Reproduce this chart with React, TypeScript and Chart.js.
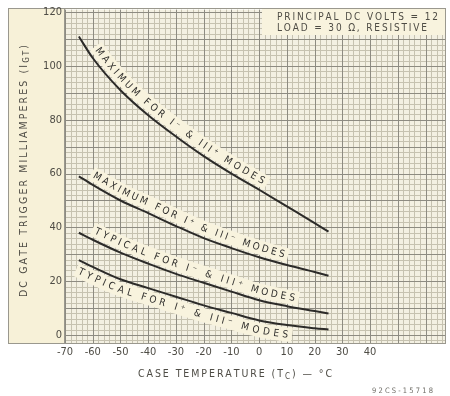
import React, { useEffect, useRef } from "react";
import { Chart, registerables } from "chart.js";

Chart.register(...registerables);

// ---- data ----
const temps = [-65, -60, -50, -40, -30, -20, -10, 0, 10, 20, 25];
const maxIminusIIIplus = [111, 103, 91, 81.7, 73.8, 66.5, 60, 54, 47.8, 41.6, 38.4];
const maxIplusIIIminus = [59, 55.8, 50, 45.3, 40.5, 36, 32.3, 28.9, 26, 23.4, 22];
const typIminusIIIplus = [38, 35.4, 30.6, 26.5, 22.7, 19.4, 16.1, 12.9, 10.7, 8.9, 8];
const typIplusIIIminus = [27.8, 25.3, 20.7, 17.4, 14.2, 11, 8.2, 5.4, 3.7, 2.5, 2];
const seriesValues = [maxIminusIIIplus, maxIplusIIIminus, typIminusIIIplus, typIplusIIIminus];
const curveLabels = [
  "MAXIMUM FOR I\u207B & III\u207A MODES",
  "MAXIMUM FOR I\u207A & III\u207B MODES",
  "TYPICAL FOR I\u207B & III\u207A MODES",
  "TYPICAL FOR I\u207A & III\u207B MODES",
];
// label start / end (in °C along the curve) and side offset in px
const labelStart = [-61, -61.3, -60.6, -63.5];
const labelEnd = [0, 8.3, 12.3, 10.9];
const labelSide = [9.5, 9.5, 9.5, -9.5];

const xTicks = [-70, -60, -50, -40, -30, -20, -10, 0, 10, 20, 30, 40];
const yTicks = [0, 20, 40, 60, 80, 100, 120];
const xMin = -70;
const xMax = 67;
const yMin = -3;
const yMax = 121;

const infoLines = ["PRINCIPAL DC VOLTS = 12", "LOAD = 30 \u03A9, RESISTIVE"];
const yTitle = ["DC GATE TRIGGER MILLIAMPERES (I", "GT", ")"];
const xTitle = ["CASE TEMPERATURE (T", "C", ") \u2014 \u00B0C"];
const figNo = "92CS-15718";

// ---- styles ----
const FONT = '"DejaVu Sans Condensed", "DejaVu Sans", sans-serif';
const TEXT = "#4e4c45";
const PANEL = "#f7f1d8";
const PLOT_BG = "#f3f0e2";
const FINE = "#c6c2b0";
const HEAVY = "#8d8b81";
const LABEL_BG = "#f8f3de";

type Seg = { t: string; size: number; dy?: number };

function drawSpaced(ctx: CanvasRenderingContext2D, segs: Seg[], x0: number, y0: number, length: number, angle: number, color: string) {
  const chars: { ch: string; size: number; dy: number; w: number }[] = [];
  for (const s of segs) {
    ctx.font = `${s.size}px ${FONT}`;
    for (const ch of Array.from(s.t)) chars.push({ ch, size: s.size, dy: s.dy || 0, w: ctx.measureText(ch).width });
  }
  const sum = chars.reduce((a, c) => a + c.w, 0);
  const gap = chars.length > 1 ? (length - sum) / (chars.length - 1) : 0;
  ctx.save();
  ctx.translate(x0, y0);
  ctx.rotate(angle);
  ctx.fillStyle = color;
  ctx.textBaseline = "middle";
  ctx.textAlign = "left";
  let pos = 0;
  for (const c of chars) {
    ctx.font = `${c.size}px ${FONT}`;
    ctx.fillText(c.ch, pos, c.dy);
    pos += c.w + gap;
  }
  ctx.restore();
}

const paperPlugin = {
  id: "paper",
  beforeDraw(chart: any) {
    const { ctx, chartArea: a } = chart;
    const x = chart.scales.x;
    const y = chart.scales.y;
    ctx.save();
    ctx.fillStyle = "#ffffff";
    ctx.fillRect(0, 0, chart.width, chart.height);
    ctx.fillStyle = PANEL;
    ctx.fillRect(8, 8, a.left - 8, a.bottom - 8);
    ctx.fillStyle = PLOT_BG;
    ctx.fillRect(a.left, a.top, a.right - a.left, a.bottom - a.top);
    const drawV = (v: number) => {
      const px = Math.round(x.getPixelForValue(v)) + 0.5;
      ctx.beginPath();
      ctx.moveTo(px, a.top);
      ctx.lineTo(px, a.bottom);
      ctx.stroke();
    };
    const drawH = (v: number) => {
      const py = Math.round(y.getPixelForValue(v)) + 0.5;
      ctx.beginPath();
      ctx.moveTo(a.left, py);
      ctx.lineTo(a.right, py);
      ctx.stroke();
    };
    ctx.lineWidth = 1;
    ctx.strokeStyle = FINE;
    for (let v = xMin; v <= xMax; v += 2) if (v % 10 !== 0) drawV(v);
    for (let v = -2; v <= yMax; v += 2) if (v % 10 !== 0) drawH(v);
    ctx.strokeStyle = HEAVY;
    for (let v = xMin; v <= xMax; v += 10) drawV(v);
    for (let v = 0; v <= yMax; v += 10) drawH(v);
    // frame
    ctx.strokeStyle = "#9a988e";
    ctx.strokeRect(8.5, 8.5, a.right - 8, a.bottom - 8);
    ctx.beginPath();
    ctx.moveTo(a.left - 0.5, 8);
    ctx.lineTo(a.left - 0.5, a.bottom);
    ctx.stroke();
    ctx.restore();
  },
  afterDatasetsDraw(chart: any) {
    const { ctx, chartArea: a } = chart;
    const x = chart.scales.x;
    ctx.save();
    chart.data.datasets.forEach((_: any, di: number) => {
      const meta = chart.getDatasetMeta(di);
      const pts = meta.data as any[];
      const poly: { x: number; y: number }[] = [];
      for (let i = 0; i < pts.length - 1; i++) {
        const p0 = pts[i], p1 = pts[i + 1];
        const c1x = p0.cp2x ?? p0.x, c1y = p0.cp2y ?? p0.y;
        const c2x = p1.cp1x ?? p1.x, c2y = p1.cp1y ?? p1.y;
        for (let k = 0; k < 24; k++) {
          const t = k / 24, u = 1 - t;
          poly.push({
            x: u * u * u * p0.x + 3 * u * u * t * c1x + 3 * u * t * t * c2x + t * t * t * p1.x,
            y: u * u * u * p0.y + 3 * u * u * t * c1y + 3 * u * t * t * c2y + t * t * t * p1.y,
          });
        }
      }
      const last = pts[pts.length - 1];
      poly.push({ x: last.x, y: last.y });
      const cum = [0];
      for (let i = 1; i < poly.length; i++) cum.push(cum[i - 1] + Math.hypot(poly[i].x - poly[i - 1].x, poly[i].y - poly[i - 1].y));
      const at = (s: number) => {
        s = Math.max(0, Math.min(cum[cum.length - 1], s));
        let i = 1;
        while (i < cum.length - 1 && cum[i] < s) i++;
        const f = (s - cum[i - 1]) / (cum[i] - cum[i - 1] || 1);
        return { x: poly[i - 1].x + f * (poly[i].x - poly[i - 1].x), y: poly[i - 1].y + f * (poly[i].y - poly[i - 1].y) };
      };
      const sAtX = (px: number) => {
        for (let i = 1; i < poly.length; i++) {
          if (poly[i].x >= px) {
            const f = (px - poly[i - 1].x) / (poly[i].x - poly[i - 1].x || 1);
            return cum[i - 1] + f * (cum[i] - cum[i - 1]);
          }
        }
        return cum[cum.length - 1];
      };
      const s0 = sAtX(x.getPixelForValue(labelStart[di]));
      const s1 = sAtX(x.getPixelForValue(labelEnd[di]));
      const size = 10;
      ctx.font = `${size}px ${FONT}`;
      const chars = Array.from(curveLabels[di]).map((ch) => ({ ch, w: ctx.measureText(ch).width }));
      const sum = chars.reduce((q, c) => q + c.w, 0);
      const gap = (s1 - s0 - sum) / (chars.length - 1);
      let s = s0;
      const off = labelSide[di];
      for (let ci = 0; ci < chars.length; ci++) {
        const c = chars[ci];
        const adv = c.w + gap;
        const mid = s + c.w / 2;
        const pA = at(mid - 4), pB = at(mid + 4), pm = at(mid);
        const ang = Math.atan2(pB.y - pA.y, pB.x - pA.x);
        const nx = Math.sin(ang), ny = -Math.cos(ang);
        ctx.save();
        ctx.translate(pm.x + nx * off, pm.y + ny * off);
        ctx.rotate(ang);
        ctx.fillStyle = LABEL_BG;
        const bw = ci === 0 || ci === chars.length - 1 ? adv + 3 : adv + 1.5;
        ctx.fillRect(ci === 0 ? -c.w / 2 - 3 : -adv / 2 - 0.75, -7, bw, 14);
        ctx.fillStyle = "#2f2e2c";
        ctx.textAlign = "center";
        ctx.textBaseline = "middle";
        ctx.fillText(c.ch, 0, 0.5);
        ctx.restore();
        s += adv;
      }
    });
    // info box
    ctx.fillStyle = LABEL_BG;
    ctx.fillRect(262, 9, a.right - 262, 26);
    drawSpaced(ctx, [{ t: infoLines[0], size: 10 }], 277, 17.5, 161, 0, TEXT);
    drawSpaced(ctx, [{ t: infoLines[1], size: 10 }], 277, 28.5, 150, 0, TEXT);
    // axis titles
    drawSpaced(ctx, [{ t: yTitle[0], size: 10.5 }, { t: yTitle[1], size: 8, dy: 3 }, { t: yTitle[2], size: 10.5 }], 24, 297, 252, -Math.PI / 2, TEXT);
    drawSpaced(ctx, [{ t: xTitle[0], size: 10.5 }, { t: xTitle[1], size: 8, dy: 3 }, { t: xTitle[2], size: 10.5 }], 138, 374, 194, 0, TEXT);
    drawSpaced(ctx, [{ t: figNo, size: 7.5 }], 372, 391, 61, 0, "#6e6c66");
    ctx.restore();
  },
};

export default function App() {
  const ref = useRef<HTMLCanvasElement | null>(null);
  useEffect(() => {
    if (!ref.current) return;
    const chart = new Chart(ref.current, {
      type: "line",
      data: {
        datasets: seriesValues.map((vals, i) => ({
          label: curveLabels[i],
          data: temps.map((t, j) => ({ x: t, y: vals[j] })),
          borderColor: "#2c2b29",
          borderWidth: 2,
          pointRadius: 0,
          fill: false,
          cubicInterpolationMode: "monotone" as const,
        })),
      },
      options: {
        responsive: false,
        animation: false,
        layout: { padding: { left: 0, top: 9, right: 5, bottom: 0 } },
        plugins: { legend: { display: false }, tooltip: { enabled: false } },
        scales: {
          x: {
            type: "linear",
            min: xMin,
            max: xMax,
            afterBuildTicks: (s: any) => {
              s.ticks = xTicks.map((v) => ({ value: v }));
            },
            afterFit: (s: any) => {
              s.height = 53;
            },
            grid: { display: false, drawTicks: false },
            border: { display: false },
            ticks: { color: TEXT, font: { family: FONT, size: 11 }, padding: 3, maxRotation: 0, autoSkip: false },
          },
          y: {
            type: "linear",
            min: yMin,
            max: yMax,
            afterBuildTicks: (s: any) => {
              s.ticks = yTicks.map((v) => ({ value: v }));
            },
            afterFit: (s: any) => {
              s.width = 65;
            },
            grid: { display: false, drawTicks: false },
            border: { display: false },
            ticks: { color: TEXT, font: { family: FONT, size: 11 }, padding: 3, autoSkip: false },
          },
        },
      },
      plugins: [paperPlugin],
    });
    return () => chart.destroy();
  }, []);
  return (
    <div style={{ position: "absolute", left: 0, top: 0, width: 450, height: 396 }}>
      <canvas ref={ref} width={450} height={396} />
    </div>
  );
}
